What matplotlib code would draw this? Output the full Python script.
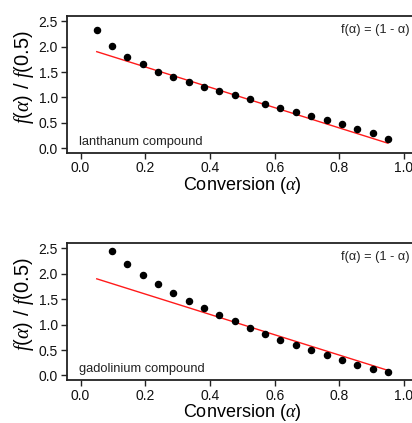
import matplotlib
matplotlib.use("Agg")
import matplotlib.pyplot as plt

plt.rcParams['font.family'] = ['Liberation Sans', 'DejaVu Sans']
plt.rcParams['mathtext.fontset'] = 'custom'
plt.rcParams['mathtext.rm'] = 'Liberation Sans'
plt.rcParams['mathtext.it'] = 'Liberation Serif:italic'

# conversion values (alpha) and normalised f(alpha)/f(0.5)
la_alpha = [0.050, 0.097, 0.145, 0.192, 0.239, 0.287, 0.334, 0.382, 0.429, 0.476,
            0.524, 0.571, 0.618, 0.666, 0.713, 0.761, 0.808, 0.855, 0.903, 0.950]
la_y = [2.33, 2.01, 1.80, 1.65, 1.51, 1.41, 1.30, 1.21, 1.13, 1.04,
        0.96, 0.88, 0.80, 0.72, 0.635, 0.556, 0.477, 0.385, 0.295, 0.183]

gd_alpha = [0.097, 0.145, 0.192, 0.239, 0.287, 0.334, 0.382, 0.429, 0.476,
            0.524, 0.571, 0.618, 0.666, 0.713, 0.761, 0.808, 0.855, 0.903, 0.950]
gd_y = [2.456, 2.193, 1.977, 1.794, 1.617, 1.466, 1.322, 1.185, 1.061,
        0.935, 0.811, 0.699, 0.595, 0.491, 0.393, 0.295, 0.208, 0.130, 0.059]

# model line f(a) = (1 - a), normalised
model_x = [0.05, 0.95]
model_y = [1.90, 0.10]

panels = [("lanthanum compound", la_alpha, la_y, 0.638),
          ("gadolinium compound", gd_alpha, gd_y, 0.101)]

fig = plt.figure(figsize=(4.12, 4.23), dpi=100)

for name, xs, ys, bottom in panels:
    ax = fig.add_axes([67/412, bottom, 350/412, 0.3246])
    ax.plot(model_x, model_y, color='#ff1a1a', lw=1.0, zorder=2)
    ax.plot(xs, ys, 'o', color='black', ms=4.4, zorder=3)
    ax.set_xlim(-0.042, 1.04)
    ax.set_ylim(-0.095, 2.605)
    ax.set_xticks([0.0, 0.2, 0.4, 0.6, 0.8, 1.0])
    ax.set_yticks([0.0, 0.5, 1.0, 1.5, 2.0, 2.5])
    ax.xaxis.set_major_formatter(matplotlib.ticker.FormatStrFormatter('%.1f'))
    ax.yaxis.set_major_formatter(matplotlib.ticker.FormatStrFormatter('%.1f'))
    ax.tick_params(direction='out', length=4.5, width=1.0, labelsize=10, pad=2, color='#222222',
                   labelcolor='#111111')
    ax.tick_params(axis='x', pad=1.5)
    for s in ['left', 'bottom', 'top']:
        ax.spines[s].set_linewidth(1.3)
        ax.spines[s].set_color('#222222')
    ax.spines['right'].set_visible(False)
    ax.set_xlabel(r'Conversion ($\alpha$)', fontsize=13, labelpad=-0.5)
    ax.set_ylabel(r'$f$($\alpha$) / $f$(0.5)', fontsize=14.5)
    ax.yaxis.set_label_coords(-0.09, 0.557)
    ax.text(0.035, 0.06, name, transform=ax.transAxes, fontsize=9.3, color='#222222')
    ax.text((410 - 67) / 350, 0.94, 'f(\u03b1) = (1 - \u03b1)', transform=ax.transAxes,
            fontsize=9.2, ha='right', va='top', color='#222222')

fig.savefig('out.png', dpi=100)
